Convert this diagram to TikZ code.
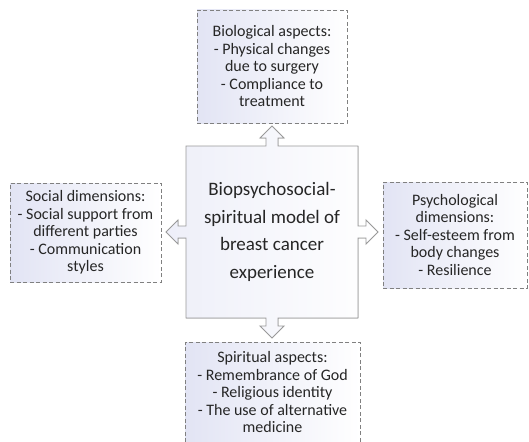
\documentclass[tikz,border=0pt]{standalone}
\usepackage{fontspec}
\setmainfont{Carlito}
\definecolor{lav}{RGB}{226,228,244}
\tikzset{
  aspect/.style={draw=black!50, dash pattern=on 4pt off 2.5pt, left color=lav, right color=white,
    align=center, inner sep=0pt, text=black!85, font=\fontsize{16}{17.5}\selectfont},
  quad/.style={draw=black!40, line width=0.9pt, left color=lav!60, right color=white},
}
\begin{document}
\begin{tikzpicture}[x=1pt,y=-1pt]
  \useasboundingbox (0,0) rectangle (529,441);
  \clip (0,0) rectangle (529,441);
  \coordinate (c) at (272,232);
  %% quad arrow
  \filldraw[quad, shift={(c)}] (-86,-86)
    -- (-6,-86) -- (-6,-94) -- (-12,-94) -- (0,-106) -- (12,-94) -- (6,-94) -- (6,-86)
    -- (86,-86)
    -- (86,-6) -- (94,-6) -- (94,-12) -- (106,0) -- (94,12) -- (94,6) -- (86,6)
    -- (86,86)
    -- (6,86) -- (6,94) -- (12,94) -- (0,106) -- (-12,94) -- (-6,94) -- (-6,86)
    -- (-86,86)
    -- (-86,6) -- (-94,6) -- (-94,12) -- (-106,0) -- (-94,-12) -- (-94,-6) -- (-86,-6)
    -- cycle;
  \node[align=center, text=black!85, font=\fontsize{19}{27.5}\selectfont] (model) at (c)
    {Biopsychosocial-\\spiritual model of\\breast cancer\\experience};
  %% aspects
  \node[aspect, minimum width=150pt, minimum height=113pt] (bio) at (272,66.5)
    {Biological aspects:\\- Physical changes\\due to surgery\\- Compliance to\\treatment};
  \node[aspect, minimum width=151pt, minimum height=99pt] (soc) at (85.5,232.5)
    {Social dimensions:\\- Social support from\\different parties\\- Communication\\styles};
  \node[aspect, minimum width=144pt, minimum height=106pt] (psy) at (455,235)
    {Psychological\\dimensions:\\- Self-esteem from\\body changes\\- Resilience};
  \node[aspect, minimum width=175pt, minimum height=100pt, anchor=north] (spi) at (272.5,342)
    {Spiritual aspects:\\- Remembrance of God\\- Religious identity\\- The use of alternative\\medicine};
\end{tikzpicture}
\end{document}
